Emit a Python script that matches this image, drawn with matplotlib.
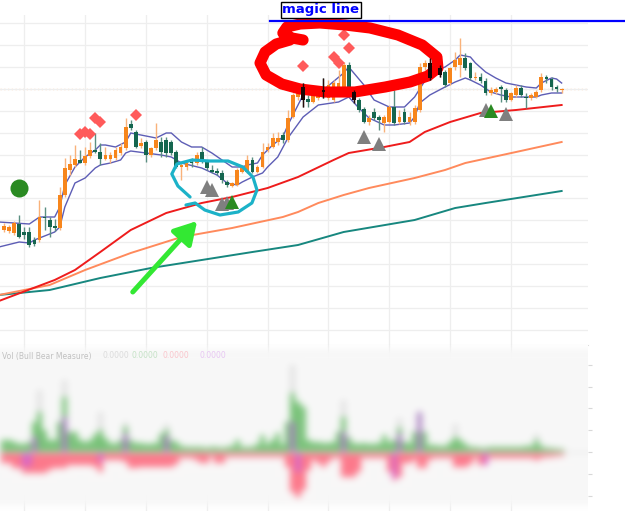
"""
magic line chart: candles, bands, moving averages, signals,
hand drawn marks on top and a blurred oscillator panel below
"""

import numpy as np
import matplotlib
matplotlib.use('Agg')
import matplotlib.pyplot as plt
from matplotlib.figure import Figure
from matplotlib.backends.backend_agg import FigureCanvasAgg
from matplotlib.lines import Line2D

# ---- candles (one value per bar) ----
opens = [120, 119, 117, 126, 118, 118, 110, 110, 133, 130,
         124, 122, 155, 180, 185, 190, 187, 194, 200, 198,
         191, 191, 192, 197, 202, 226, 218, 204, 208, 195,
         202, 208, 210, 208, 198, 183, 183, 188, 187, 198,
         188, 180, 179, 177, 168, 164, 165, 178, 178, 190,
         178, 183, 200, 203, 208, 215, 210, 233, 253, 263,
         251, 248, 252, 260, 252, 250, 263, 260, 285, 258,
         250, 241, 228, 238, 233, 227, 228, 243, 228, 238,
         228, 228, 240, 283, 287, 280, 282, 278, 267, 283,
         285, 292, 287, 272, 273, 269, 257, 258, 263, 260,
         250, 255, 262, 253, 252, 253, 260, 273, 271, 263, 260]
highs = [127, 125, 129, 135, 123, 123, 113, 150, 143, 133,
         131, 163, 192, 195, 205, 200, 203, 208, 217, 207,
         203, 198, 203, 207, 232, 230, 220, 212, 210, 203,
         227, 213, 213, 210, 200, 188, 190, 192, 198, 203,
         190, 185, 182, 180, 170, 168, 182, 185, 195, 193,
         185, 207, 207, 217, 218, 218, 240, 257, 265, 267,
         255, 258, 262, 272, 270, 270, 280, 288, 288, 260,
         252, 243, 235, 242, 235, 235, 245, 260, 240, 242,
         238, 245, 287, 290, 292, 285, 285, 280, 283, 298,
         312, 297, 288, 278, 277, 272, 263, 263, 265, 262,
         258, 265, 265, 257, 257, 260, 277, 275, 273, 265, 262]
lows = [118, 117, 115, 112, 111, 103, 104, 108, 120, 113,
        119, 120, 153, 175, 183, 187, 185, 192, 197, 185,
        190, 187, 190, 195, 200, 220, 202, 202, 188, 193,
        200, 193, 193, 195, 182, 170, 180, 183, 185, 187,
        180, 177, 175, 167, 163, 163, 164, 177, 177, 177,
        177, 182, 198, 202, 205, 207, 208, 232, 250, 243,
        243, 247, 250, 252, 250, 248, 260, 258, 258, 247,
        238, 227, 225, 230, 220, 218, 227, 225, 226, 226,
        225, 226, 238, 280, 270, 275, 273, 263, 265, 280,
        273, 280, 270, 270, 267, 255, 255, 256, 248, 248,
        249, 253, 253, 242, 250, 252, 258, 267, 260, 258, 257]
closes = [124, 123, 127, 113, 115, 105, 106, 133, 132, 123,
          122, 155, 182, 186, 191, 187, 194, 200, 198, 191,
          195, 195, 200, 203, 223, 222, 203, 207, 195, 202,
          210, 198, 197, 197, 183, 185, 187, 187, 195, 188,
          182, 178, 177, 170, 165, 167, 180, 182, 190, 178,
          183, 198, 203, 212, 212, 210, 232, 255, 258, 250,
          248, 255, 258, 258, 265, 267, 267, 285, 260, 250,
          240, 228, 232, 232, 230, 233, 243, 227, 233, 228,
          233, 242, 283, 287, 272, 277, 275, 265, 282, 290,
          292, 282, 272, 273, 269, 257, 260, 261, 261, 250,
          257, 262, 255, 252, 255, 258, 273, 271, 263, 261, 261]

# bars that look black where the red pen stroke crosses them
dark_idx = [59, 63, 69, 84, 86]

# ---- bands around the candles ----
upper_idx = [-1, 5, 7, 10, 11, 12, 14, 16, 18, 19, 20, 22, 24, 25, 27, 29, 30,
             32, 33, 35, 37, 39, 41, 43, 45, 47, 48, 50, 51, 53, 55, 56, 59,
             63, 67, 68, 71, 73, 76, 79, 81, 84, 87, 89, 90, 92, 93, 95, 97,
             99, 101, 103, 105, 106, 108, 109, 110]
upper_val = [128, 126, 133, 133, 143, 165, 183, 193, 200, 205, 205, 203, 208,
             217, 215, 213, 212, 217, 217, 208, 203, 203, 197, 190, 183, 183,
             185, 187, 195, 205, 213, 225, 255, 260, 277, 283, 265, 250, 243,
             243, 253, 277, 283, 290, 295, 293, 287, 278, 272, 267, 265, 263,
             262, 267, 272, 271, 267]
lower_idx = [-1, 3, 5, 6, 10, 11, 12, 14, 16, 18, 19, 21, 23, 24, 25, 28, 31,
             33, 35, 39, 42, 44, 46, 47, 49, 51, 52, 54, 56, 59, 62, 66, 68,
             70, 72, 75, 77, 80, 81, 82, 84, 87, 89, 91, 92, 94, 96, 98, 100,
             102, 105, 106, 108, 110]
lower_val = [103, 108, 107, 110, 118, 123, 143, 167, 172, 182, 185, 187, 190,
             197, 199, 197, 195, 193, 187, 182, 175, 167, 165, 168, 173, 177,
             183, 193, 212, 233, 245, 248, 253, 242, 232, 225, 225, 227, 233,
             247, 255, 263, 268, 272, 270, 265, 258, 255, 253, 253, 253, 255,
             257, 257]

# ---- moving averages ----
red_idx = [-1, 10, 14, 19, 25, 32, 39, 45, 52, 58, 65, 68, 75, 80, 83, 88, 94, 101, 110]
red_val = [49, 70, 80, 98, 120, 137, 147, 153, 162, 173, 190, 197, 203, 208, 218, 228, 237, 240, 245]
coral_idx = [-1, 9, 16, 25, 35, 45, 55, 58, 62, 67, 72, 81, 87, 91, 101, 110]
coral_val = [55, 65, 80, 97, 113, 122, 133, 138, 147, 155, 162, 172, 180, 187, 198, 208]
teal_idx = [-1, 9, 19, 29, 39, 49, 58, 67, 81, 89, 95, 110]
teal_val = [55, 60, 72, 82, 90, 98, 105, 118, 130, 142, 147, 159]

# ---- signals ----
diamond_idx = [15, 16, 17, 18, 19, 26, 59, 65, 66, 67, 68]
diamond_val = [216, 218, 216, 232, 228, 235, 284, 293, 287, 315, 302]
gray_tri_idx = [40, 41, 43, 44, 71, 74, 95, 99]
gray_tri_val = [163, 160, 146, 147, 213, 206, 240, 236]
green_tri_idx = [45, 96]
green_tri_val = [148, 239]
dot_idx = [3]
dot_val = [162]

# ---- hand drawn marks (bar index, price) ----
pen_x = [59.0, 56.8, 55.0, 55.8, 58.4, 62.3, 67.3, 72.2, 77.7, 82.5, 85.4, 85.6,
         83.6, 80.1, 75.2, 69.2, 63.3, 58.4, 54.8, 51.7, 50.5, 51.5, 53.7, 56.4]
pen_y = [310, 312, 317, 323, 326, 327, 325, 322, 315, 305, 293, 282,
         274, 268, 263, 258, 258, 261, 266, 275, 287, 298, 306, 310]
loop_x = [36.7, 34.3, 33.1, 34.1, 37.1, 40.6, 44.2, 47.1, 49.1, 49.9, 48.9,
          46.2, 42.6, 39.6, 37.7, 35.9]
loop_y = [153, 164, 176, 186, 190, 189, 189, 183, 173, 160, 147, 138, 135,
          140, 147, 145]
arrow_from = (25.4, 58)
arrow_to = (38.1, 129)

# ---- oscillator panel ----
bull = [12, 12, 10, 8, 8, 10, 30, 40, 22, 12,
        12, 30, 55, 20, 20, 12, 10, 12, 18, 22,
        14, 9, 8, 12, 25, 12, 9, 9, 8, 8,
        9, 18, 22, 12, 10, 6, 5, 5, 5, 5,
        4, 5, 5, 4, 5, 6, 12, 5, 5, 5,
        8, 17, 8, 12, 19, 8, 30, 59, 50, 45,
        12, 10, 10, 9, 9, 10, 20, 35, 15, 9,
        8, 9, 8, 8, 9, 17, 10, 12, 24, 10,
        9, 20, 40, 20, 7, 7, 6, 6, 10, 15,
        12, 8, 5, 5, 4, 4, 5, 5, 5, 5,
        5, 5, 5, 6, 6, 12, 6, 4, 4, 3, 3]
bear = [11, 11, 16, 16, 21, 21, 21, 21, 21, 18,
        16, 16, 16, 13, 13, 13, 13, 13, 15, 20,
        8, 8, 8, 8, 10, 16, 16, 15, 15, 15,
        15, 15, 15, 15, 12, 6, 6, 6, 8, 11,
        11, 5, 11, 11, 5, 5, 5, 5, 5, 5,
        5, 5, 5, 5, 5, 5, 15, 40, 45, 38,
        18, 8, 11, 15, 10, 6, 6, 25, 25, 25,
        20, 6, 6, 6, 6, 6, 20, 28, 25, 11,
        11, 8, 16, 16, 8, 6, 6, 6, 6, 15,
        15, 15, 12, 6, 13, 13, 6, 6, 6, 6,
        6, 6, 6, 6, 6, 8, 6, 5, 5, 4, 4]
purple_idx = [4, 5, 6, 12, 19, 24, 32, 57, 58, 67, 77, 78, 82, 95]
purple_val = [-15, -14, 15, 35, -10, 18, 16, 30, -20, 20, -26, 18, 40, -13]
spike_idx = [7, 12, 19, 24, 32, 57, 67, 78, 89, 105]
spike_val = [62, 72, 40, 30, 28, 87, 52, 34, 28, 18]


def gaussian_blur(img, sigma):
    r = int(3 * sigma)
    k = np.exp(-np.arange(-r, r + 1) ** 2 / (2.0 * sigma ** 2))
    k /= k.sum()
    h, w = img.shape[:2]
    p = np.pad(img, ((r, r), (0, 0), (0, 0)), mode='edge')
    img = sum(k[j] * p[j:j + h] for j in range(2 * r + 1))
    p = np.pad(img, ((0, 0), (r, r), (0, 0)), mode='edge')
    img = sum(k[j] * p[:, j:j + w] for j in range(2 * r + 1))
    return img


W, H = 625, 511
fig = plt.figure(figsize=(W / 100, H / 100), dpi=100)
fig.patch.set_facecolor('white')

ax = fig.add_axes([0, 166 / H, 588 / W, 330 / H])
ax_low = fig.add_axes([0, 0, 588 / W, 166 / H])

xlim = (-0.79, 115.2)
grid_x = np.arange(4, 112, 12)

# ---- price panel ----
ax.set_xlim(*xlim)
ax.set_ylim(5, 335)
ax.set_xticks(grid_x)
ax.set_yticks(20 + 21.93 * np.arange(15))
ax.grid(color='#eeeeee', lw=0.9, zorder=0)
ax.tick_params(length=0, labelbottom=False, labelleft=False)
for s in ('left', 'right', 'top'):
    ax.spines[s].set_visible(False)
ax.spines['bottom'].set_color('#dddddd')
ax.set_facecolor('white')

ax.plot(teal_idx, teal_val, color='#17877f', lw=1.4, zorder=2)
ax.plot(coral_idx, coral_val, color='#ff8a5c', lw=1.4, zorder=2)
ax.plot(red_idx, red_val, color='#ee1c1c', lw=1.4, zorder=2)
ax.plot(upper_idx, upper_val, color='#5d5db5', lw=1.0, zorder=3)
ax.plot(lower_idx, lower_val, color='#5d5db5', lw=1.0, zorder=3)

# last price line
ax.axhline(closes[-1], color='#f2a060', lw=0.9, ls=(0, (1, 2)), zorder=1)

idx = np.arange(len(opens))
o, hi, lo, c = map(np.array, (opens, highs, lows, closes))
up = c >= o
body_col = np.where(up, '#f7861c', '#15664f')
wick_col = np.where(up, '#f9b27a', '#5b8f82')
ax.vlines(idx, lo, hi, colors=wick_col, lw=1, zorder=4)
ax.bar(idx, np.maximum(np.abs(c - o), 1.5), bottom=np.minimum(o, c),
       width=0.74, color=body_col, zorder=5)

ax.plot(diamond_idx, diamond_val, 'D', color='#ff5a5a', ms=6.3, mew=0, zorder=6)
ax.plot(gray_tri_idx, gray_tri_val, '^', color='#7f7f7f', ms=9.5, mew=0, zorder=6)
ax.plot(green_tri_idx, green_tri_val, '^', color='#2a8a22', ms=9.5, mew=0, zorder=6)
ax.plot(dot_idx, dot_val, 'o', color='#2a8a22', ms=13, mew=0, zorder=6)

# red pen stroke, teal bars under it look black
ax.plot(pen_x, pen_y, color='#ff0000', lw=8, solid_capstyle='round',
        solid_joinstyle='round', zorder=7, clip_on=False)
for i in dark_idx:
    ax.vlines(i, lows[i], highs[i], colors='#2a0808', lw=1, zorder=8)
    ax.bar(i, max(abs(closes[i] - opens[i]), 1.5), bottom=min(opens[i], closes[i]),
           width=0.74, color='#1a0505', zorder=8)

ax.plot(loop_x, loop_y, color='#1cb2c8', lw=2.3, solid_capstyle='round',
        solid_joinstyle='round', zorder=9)
ax.annotate('', xy=arrow_to, xytext=arrow_from, zorder=9,
            arrowprops=dict(arrowstyle='-|>,head_length=0.95,head_width=0.55',
                            color='#33e833', lw=3.6, mutation_scale=14,
                            shrinkA=0, shrinkB=0, capstyle='round'))

# ---- oscillator panel, drawn off screen and blurred ----
low_ylim = (-59, 107)
ax_low.set_xlim(*xlim)
ax_low.set_ylim(*low_ylim)
ax_low.set_xticks(grid_x)
ax_low.grid(axis='x', color='#eeeeee', lw=0.9, zorder=0)
ax_low.yaxis.tick_right()
ax_low.set_yticks(21.8 * np.arange(-2, 5))
ax_low.tick_params(axis='x', length=0, labelbottom=False)
ax_low.tick_params(axis='y', length=3, color='#d8d8d8', labelright=False)
for s in ax_low.spines.values():
    s.set_visible(False)

off = Figure(figsize=(588 / 100, 166 / 100), dpi=100, facecolor=(1, 1, 1, 0))
canvas = FigureCanvasAgg(off)
oa = off.add_axes([0, 0, 1, 1])
oa.set_xlim(*xlim)
oa.set_ylim(*low_ylim)
oa.axis('off')
oa.axhspan(-53, 103, color='#f8f8f8', lw=0)
oa.axhline(0, color='#e2e2e2', lw=1)
oa.bar(spike_idx, spike_val, width=1.0, color='#c4c4c4', alpha=0.45, lw=0)
oa.bar(idx, bull, width=1.0, color='#5cb85c', alpha=0.8, lw=0)
oa.bar(idx, -np.array(bear), width=1.0, color='#ff5a70', alpha=0.8, lw=0)
oa.bar(purple_idx, purple_val, width=1.0, color='#c660e8', alpha=0.65, lw=0)
canvas.draw()
buf = np.asarray(canvas.buffer_rgba()).astype(float) / 255.0
alpha = buf[:, :, 3:4]
prem = np.concatenate([buf[:, :, :3] * alpha, alpha], axis=2)
prem = gaussian_blur(prem, 3.6)
a = np.clip(prem[:, :, 3:4], 0, 1)
rgb = np.clip(prem[:, :, :3] / np.maximum(a, 1e-6), 0, 1)
ax_low.imshow(np.concatenate([rgb, a], axis=2), extent=(*xlim, *low_ylim),
              aspect='auto', interpolation='nearest', zorder=2)

# legend of the oscillator (faint, as in the blurred original)
fig.text(2 / W, 1 - 356 / H, 'Vol (Bull Bear Measure)', fontsize=5.5,
         color='#444444', alpha=0.3, va='center')
for xp, col in zip([102, 132, 163, 199], ['#999999', '#4caf50', '#ff4d62', '#c050e8']):
    fig.text(xp / W, 1 - 356 / H, '0.0000', fontsize=5.5, color=col,
             alpha=0.3, va='center')

# ---- title ----
fig.add_artist(Line2D([270 / W, 1], [1 - 21 / H, 1 - 21 / H], color='#0000ff', lw=1.6))
fig.text(321 / W, 1 - 10 / H, 'magic line', ha='center', va='center',
         fontsize=9.5, fontweight='bold', color='#0000ff',
         bbox=dict(boxstyle='square,pad=0.15', fc='white', ec='black', lw=1))

fig.savefig('out.png', dpi=100)
